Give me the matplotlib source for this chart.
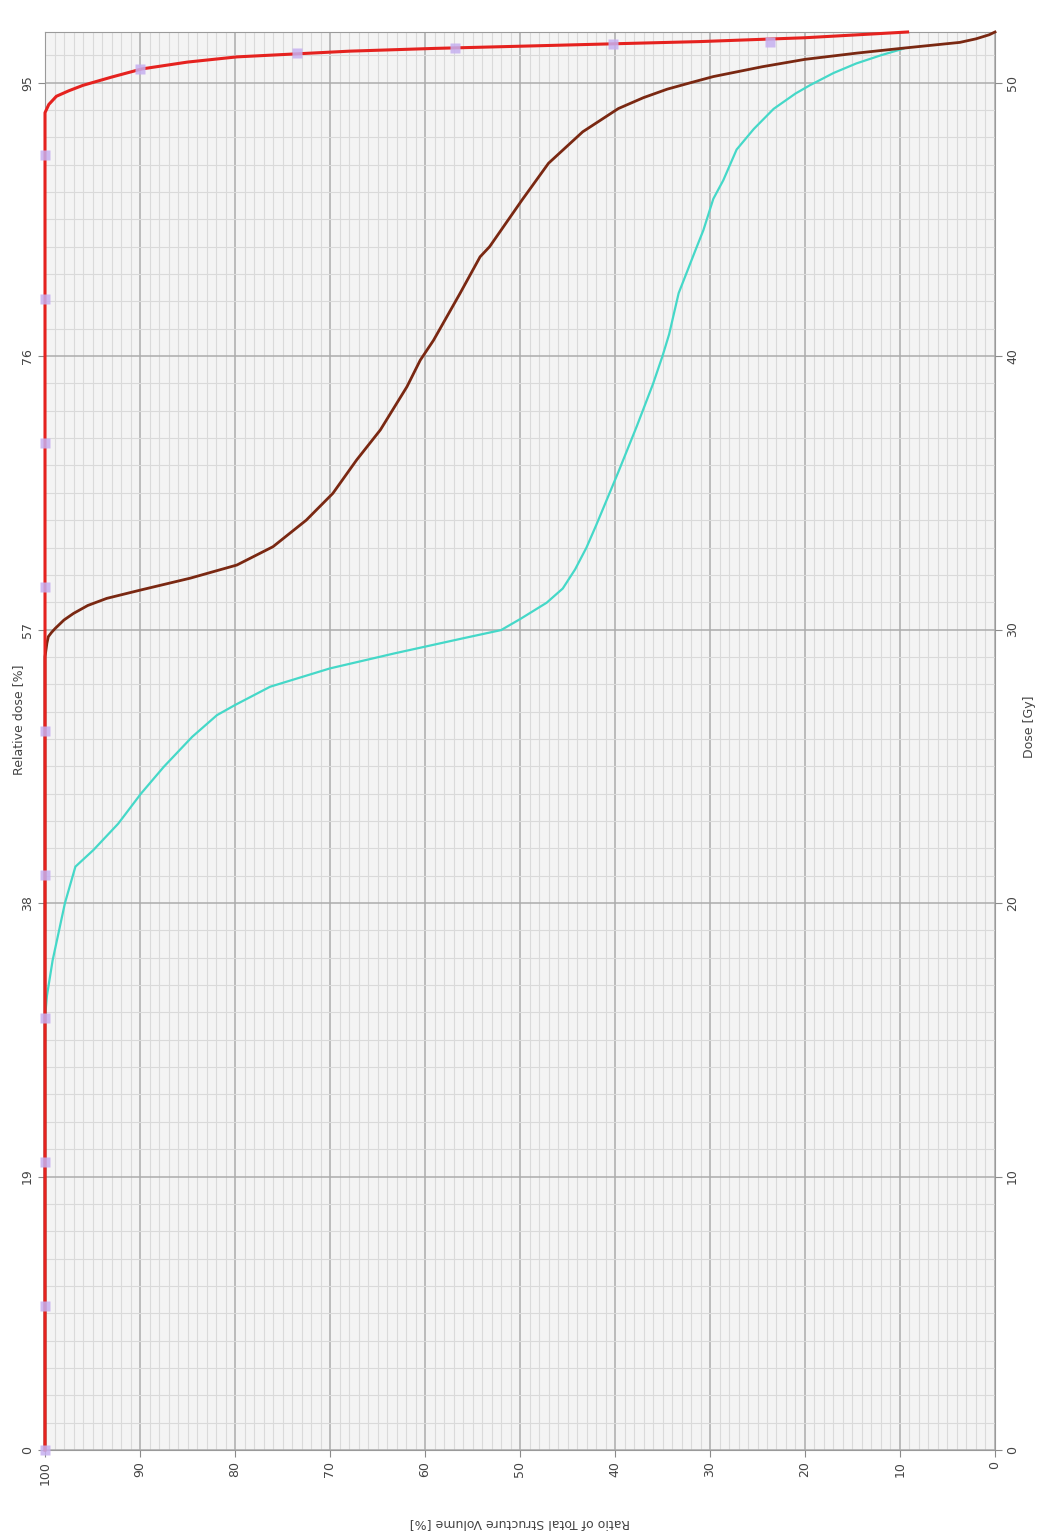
import matplotlib
matplotlib.use("Agg")
import matplotlib.pyplot as plt
import numpy as np

# axis ticks
vol_ticks = [100, 90, 80, 70, 60, 50, 40, 30, 20, 10, 0]
dose_ticks = [0, 10, 20, 30, 40, 50]
rel_dose_labels = ['0', '19', '38', '57', '76', '95']
gy_labels = ['0', '10', '20', '30', '40', '50']
dose_max = 51.85

# DVH curves (volume %, dose Gy)
ptv_vol = [100, 100, 99.6, 99.2, 98.8, 97.5, 96.0, 93.0, 89.8, 85.0, 79.8, 67.9, 59.0, 50.0, 40.0, 31.0, 20.0, 9.2]
ptv_dose = [0, 48.9, 49.2, 49.35, 49.5, 49.7, 49.9, 50.2, 50.5, 50.75, 50.94, 51.15, 51.25, 51.33, 51.42, 51.5, 51.64, 51.85]

oar1_vol = [100, 100, 99.8, 99.65, 99.3, 98.9, 98.0, 97.0, 95.5, 93.5, 90.0, 84.7, 79.8, 76.0, 72.5, 69.7,
            67.2, 64.7, 61.9, 60.5, 59.1, 56.3, 54.2, 53.2, 49.8, 47.0, 43.4, 39.65, 37.0, 34.5, 32.0,
            29.65, 24.5, 20.0, 14.5, 9.65, 3.7, 2.0, 0.6, 0]
oar1_dose = [0, 29.0, 29.5, 29.74, 29.9, 30.05, 30.35, 30.59, 30.88, 31.14, 31.44, 31.88, 32.36, 33.03, 34.0, 34.98,
             36.2, 37.3, 38.88, 39.85, 40.58, 42.3, 43.63, 44.0, 45.7, 47.05, 48.2, 49.05, 49.45, 49.76, 50.0,
             50.22, 50.58, 50.85, 51.08, 51.26, 51.47, 51.6, 51.75, 51.85]

oar2_vol = [100, 100, 99.8, 99.2, 97.9, 96.8, 94.9, 92.3, 89.9, 87.5, 84.5, 81.9, 80.0, 76.3, 70.0,
            63.2, 56.0, 52.0, 50.0, 47.2, 45.5, 44.2, 43.0, 42.0, 40.8, 39.65, 37.7, 36.0, 35.0, 34.3,
            33.3, 31.5, 30.7, 29.65, 28.6, 27.2, 25.4, 23.3, 21.0, 19.5, 17.0, 14.6, 12.0, 9.65]
oar2_dose = [0, 15.8, 16.6, 17.9, 20.0, 21.33, 21.94, 22.9, 24.0, 24.98, 26.08, 26.87, 27.24, 27.91, 28.58,
             29.13, 29.68, 29.98, 30.38, 30.98, 31.5, 32.2, 33.0, 33.8, 34.8, 35.76, 37.44, 38.98, 40.0, 40.8,
             42.3, 43.9, 44.6, 45.75, 46.43, 47.55, 48.3, 49.04, 49.6, 49.9, 50.35, 50.7, 51.0, 51.24]

# sample markers
marker_vol = [100, 100, 100, 100, 100, 100, 100, 100, 100, 100, 90.0, 73.5, 56.8, 40.2, 23.7]
marker_dose = [0, 5.26, 10.52, 15.78, 21.04, 26.3, 31.56, 36.82, 42.08, 47.34, 50.5, 51.1, 51.25, 51.4, 51.5]

fig = plt.figure(figsize=(10.4, 15.31), dpi=100)
ax = fig.add_axes([45 / 1040, 1 - 1450 / 1531, 950 / 1040, 1418 / 1531])
ax.set_facecolor('#f4f4f4')

ax.plot(oar2_vol, oar2_dose, color='#45d8c8', lw=1.6, clip_on=False, zorder=3)
ax.plot(oar1_vol, oar1_dose, color='#7a2812', lw=2.0, clip_on=False, zorder=4)
ax.plot(ptv_vol, ptv_dose, color='#e5221f', lw=2.2, clip_on=False, zorder=5)
ax.plot(marker_vol, marker_dose, 's', ms=6.5, color='#c6b0f0', alpha=0.85,
        clip_on=False, zorder=6, mec='none')

ax.set_xlim(100, 0)
ax.set_ylim(0, dose_max)
ax.set_xticks(vol_ticks)
ax.set_xticks(np.arange(0, 101, 1), minor=True)
ax.set_yticks(dose_ticks)
ax.set_yticks(np.arange(0, 52, 1), minor=True)
ax.grid(which='major', color='#acacac', lw=1.1)
ax.grid(which='minor', color='#dadada', lw=0.8)
ax.set_axisbelow(True)

ax.set_xticklabels([str(v) for v in vol_ticks], rotation=90)
ax.set_yticklabels(rel_dose_labels, rotation=90, va='center')
ax.tick_params(which='minor', length=0)
ax.tick_params(which='major', length=5, color='#8a8a8a', labelsize=9, labelcolor='#444444', pad=3)
for s in ax.spines.values():
    s.set_color('#9a9a9a')

ax.set_ylabel('Relative dose [%]', fontsize=9, color='#444444')
ax.yaxis.set_label_coords(-0.021, 0.515)
ax.set_xlabel('Ratio of Total Structure Volume [%]', fontsize=9, color='#444444', rotation=180)
ax.xaxis.set_label_coords(0.5, -0.047)

ax2 = ax.twinx()
ax2.set_ylim(0, dose_max)
ax2.set_yticks(dose_ticks)
ax2.set_yticklabels(gy_labels, rotation=90, va='center')
ax2.tick_params(length=5, color='#8a8a8a', labelsize=9, labelcolor='#444444', pad=3)
ax2.set_ylabel('Dose [Gy]', fontsize=9, color='#444444')
ax2.yaxis.set_label_coords(1.029, 0.51)
for s in ax2.spines.values():
    s.set_visible(False)

fig.savefig('out.png', dpi=100)
